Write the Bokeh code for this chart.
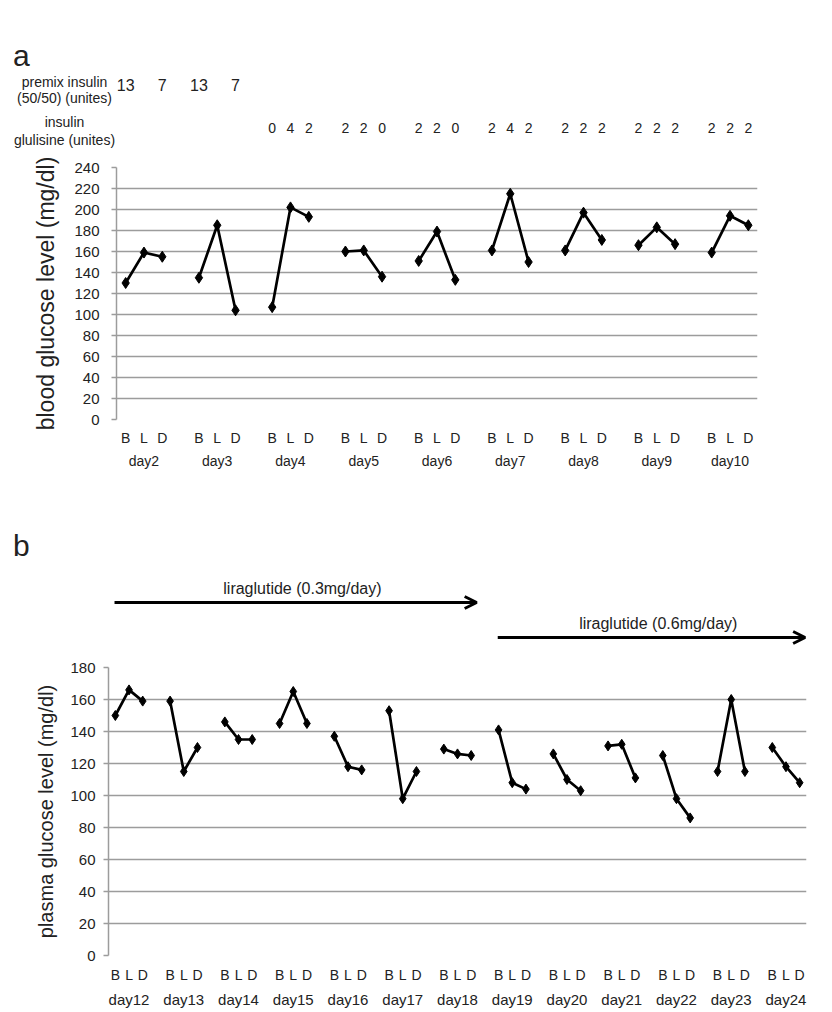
from bokeh.plotting import figure
from bokeh.models import (FactorRange, Range1d, FixedTicker, ColumnDataSource, Arrow, OpenHead)
from bokeh.embed import file_html
from bokeh.resources import INLINE
from bokeh.core.properties import value

FONT = "Liberation Sans"
TXT = "#222222"
GRID = "#9c9c9c"
W = 816

meals = ["B", "L", "D"]

# ---------------- panel a data ----------------
days_a = ["day2", "day3", "day4", "day5", "day6", "day7", "day8", "day9", "day10"]
bg_B = [130, 135, 107, 160, 151, 161, 161, 166, 159]
bg_L = [159, 185, 202, 161, 179, 215, 197, 183, 194]
bg_D = [155, 104, 193, 136, 133, 150, 171, 167, 185]
premix_B = ["13", "13", "", "", "", "", "", "", ""]
premix_L = ["", "", "", "", "", "", "", "", ""]
premix_D = ["7", "7", "", "", "", "", "", "", ""]
glu_B = ["", "", "0", "2", "2", "2", "2", "2", "2"]
glu_L = ["", "", "4", "2", "2", "4", "2", "2", "2"]
glu_D = ["", "", "2", "0", "0", "2", "2", "2", "2"]
yticks_a = [0, 20, 40, 60, 80, 100, 120, 140, 160, 180, 200, 220, 240]

# ---------------- panel b data ----------------
days_b = ["day12", "day13", "day14", "day15", "day16", "day17", "day18",
          "day19", "day20", "day21", "day22", "day23", "day24"]
pg_B = [150, 159, 146, 145, 137, 153, 129, 141, 126, 131, 125, 115, 130]
pg_L = [166, 115, 135, 165, 118, 98, 126, 108, 110, 132, 98, 160, 118]
pg_D = [159, 130, 135, 145, 116, 115, 125, 104, 103, 111, 86, 115, 108]
yticks_b = [0, 20, 40, 60, 80, 100, 120, 140, 160, 180]
lira_text = ["liraglutide (0.3mg/day)", "liraglutide (0.6mg/day)"]
lira_start = ["day12", "day19"]
lira_end = ["day18", "day24"]


def synth(days, day, meal_idx):
    # synthetic coordinate of a nested factor (group_padding = 1)
    return days.index(day) * 4 + meal_idx + 0.5


def style(p, ticks, ylabel, lab_size, standoff_lab, standoff_tick):
    p.outline_line_color = None
    p.xgrid.grid_line_color = None
    p.ygrid.grid_line_color = GRID
    p.ygrid.grid_line_width = 1.5
    p.yaxis.ticker = FixedTicker(ticks=ticks)
    p.yaxis.axis_line_color = GRID
    p.yaxis.axis_line_width = 1.5
    p.yaxis.major_tick_line_color = GRID
    p.yaxis.major_tick_line_width = 1.5
    p.yaxis.major_tick_out = 5
    p.yaxis.major_tick_in = 0
    p.yaxis.minor_tick_line_color = None
    p.yaxis.major_label_text_font = FONT
    p.yaxis.major_label_text_font_size = "15px"
    p.yaxis.major_label_text_color = TXT
    p.yaxis.major_label_standoff = standoff_tick
    p.yaxis.axis_label = ylabel
    p.yaxis.axis_label_text_font = FONT
    p.yaxis.axis_label_text_font_size = lab_size
    p.yaxis.axis_label_text_font_style = "normal"
    p.yaxis.axis_label_text_color = TXT
    p.yaxis.axis_label_standoff = standoff_lab
    p.xaxis.axis_line_color = None
    p.xaxis.major_tick_line_color = None
    p.xaxis.minor_tick_line_color = None
    p.xaxis.separator_line_color = None
    p.xaxis.major_label_text_font = FONT
    p.xaxis.major_label_text_color = TXT
    p.xaxis.group_text_font = FONT
    p.xaxis.group_text_font_style = "normal"
    p.xaxis.group_text_color = TXT


def draw_days(p, days, vb, vl, vd, size):
    for i, d in enumerate(days):
        src = ColumnDataSource(dict(x=[(d, m) for m in meals], y=[vb[i], vl[i], vd[i]]))
        p.line(x="x", y="y", source=src, line_color="black", line_width=2.7)
        p.scatter(x="x", y="y", source=src, marker="diamond", size=size,
                  fill_color="black", line_color="black")


def strip(height, frame_left, slot_w):
    s = figure(width=W, height=height, output_backend="svg", toolbar_location=None,
               x_range=Range1d(-frame_left / slot_w, (W - frame_left) / slot_w),
               y_range=Range1d(0, height), x_axis_location=None, y_axis_location=None,
               min_border_left=0, min_border_right=0, min_border_top=0, min_border_bottom=0)
    s.outline_line_color = None
    s.grid.grid_line_color = None
    return s


def put(p, x, y, t, size, align="center"):
    p.text(x=[x], y=[y], text=[t], text_align=align, text_baseline="middle",
           text_font=value(FONT), text_font_size=size, text_color=TXT)


# ---------------- panel a annotations strip ----------------
A_LEFT, A_SLOT, A_H = 116, 641 / 35, 150
sa = strip(A_H, A_LEFT, A_SLOT)
put(sa, -5.19, 95, "a", "30px")
put(sa, -2.84, 69, "premix insulin", "14px")
put(sa, -2.84, 53, "(50/50) (unites)", "14px")
put(sa, -2.84, 29, "insulin", "14px")
put(sa, -2.84, 11, "glulisine (unites)", "14px")
for rb, rl, rd, yy, fs in [(premix_B, premix_L, premix_D, 66, "16px"),
                           (glu_B, glu_L, glu_D, 23, "14px")]:
    for i, d in enumerate(days_a):
        for j, arr in enumerate((rb, rl, rd)):
            if arr[i]:
                put(sa, synth(days_a, d, j), yy, arr[i], fs)

# ---------------- panel a ----------------
factors_a = [(d, m) for d in days_a for m in meals]
pa = figure(x_range=FactorRange(*factors_a, group_padding=1.0), y_range=Range1d(0, 240),
            width=W, height=350, output_backend="svg", toolbar_location=None,
            min_border_left=A_LEFT, min_border_right=W - 757, min_border_top=17,
            min_border_bottom=81)
style(pa, yticks_a, "blood glucose level (mg/dl)", "23px", 12, 12)
pa.xaxis.major_label_text_font_size = "14px"
pa.xaxis.major_label_standoff = 4
pa.xaxis.group_text_font_size = "14px"
draw_days(pa, days_a, bg_B, bg_L, bg_D, 11)

# ---------------- panel b annotations strip ----------------
B_LEFT, B_SLOT, B_H = 108, 698 / 51, 150
sb = strip(B_H, B_LEFT, B_SLOT)
put(sb, -6.36, 105, "b", "30px")
arrow_y = [48, 13]
text_y = [62, 27]
for k in range(2):
    xs0 = synth(days_b, lira_start[k], 0) - 0.06
    xe0 = synth(days_b, lira_end[k], 2) + 0.4
    sb.add_layout(Arrow(end=OpenHead(size=12, line_width=3, line_color="black"),
                        x_start=xs0, y_start=arrow_y[k], x_end=xe0, y_end=arrow_y[k],
                        line_width=3, line_color="black"))
    put(sb, (xs0 + xe0) / 2 + 0.5, text_y[k], lira_text[k], "16px")

# ---------------- panel b ----------------
factors_b = [(d, m) for d in days_b for m in meals]
pb = figure(x_range=FactorRange(*factors_b, group_padding=1.0), y_range=Range1d(0, 180),
            width=W, height=360, output_backend="svg", toolbar_location=None,
            min_border_left=B_LEFT, min_border_right=W - 806, min_border_top=17,
            min_border_bottom=53)
style(pb, yticks_b, "plasma glucose level (mg/dl)", "20px", 10, 8)
pb.xaxis.major_label_text_font_size = "14px"
pb.xaxis.group_text_font_size = "15px"
draw_days(pb, days_b, pg_B, pg_L, pg_D, 10)

open("out.html", "w").write(file_html([sa, pa, sb, pb], INLINE))
